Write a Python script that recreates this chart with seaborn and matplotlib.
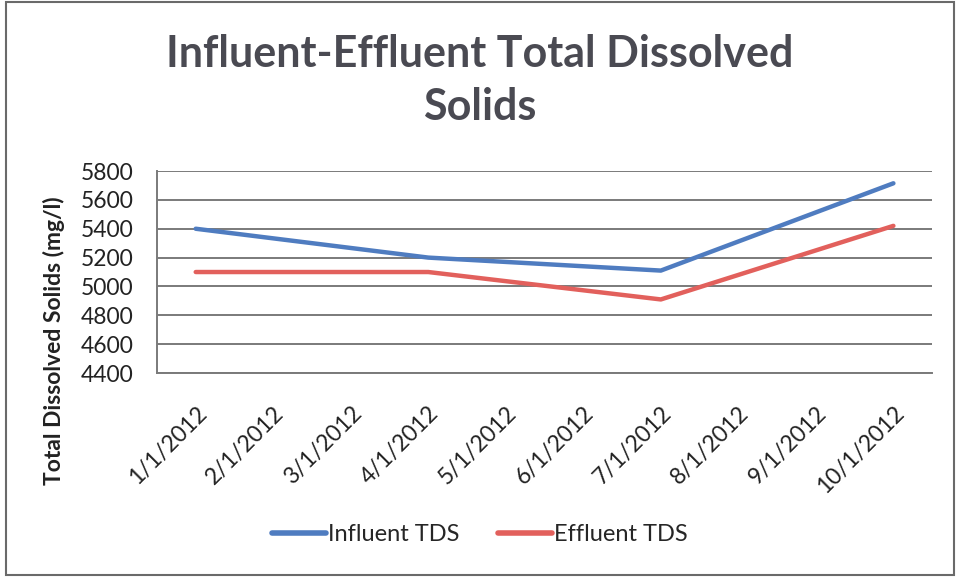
import matplotlib
matplotlib.use("Agg")
import matplotlib.pyplot as plt
import pandas as pd
import seaborn as sns
from matplotlib.patches import Rectangle

# monthly category axis, readings only at the quarterly dates
months = ['1/1/2012', '2/1/2012', '3/1/2012', '4/1/2012', '5/1/2012',
          '6/1/2012', '7/1/2012', '8/1/2012', '9/1/2012', '10/1/2012']
sample_dates = ['1/1/2012', '4/1/2012', '7/1/2012', '10/1/2012']
influent_tds = [5400, 5200, 5110, 5715]
effluent_tds = [5100, 5100, 4910, 5420]
y_ticks = [4400, 4600, 4800, 5000, 5200, 5400, 5600, 5800]

blue = '#4F7CC0'
red = '#E2605C'

sns.set_theme(style='white')
plt.rcParams['font.family'] = ['Lato', 'DejaVu Sans']

df = pd.DataFrame({
    'date': sample_dates * 2,
    'tds': influent_tds + effluent_tds,
    'series': ['Influent TDS'] * 4 + ['Effluent TDS'] * 4,
})
df['pos'] = df['date'].map({m: i for i, m in enumerate(months)})

fig = plt.figure(figsize=(9.6, 5.77), dpi=100)
ax = fig.add_axes([0.1635, 0.3535, 0.8075, 0.3501])

sns.lineplot(df, x='pos', y='tds', hue='series', palette=[blue, red],
             linewidth=3.2, ax=ax, legend=False, sort=False)
for line in ax.lines:
    line.set_solid_capstyle('round')

ax.set_xlim(-0.5, len(months) - 0.5)
ax.set_ylim(4400, 5800)
ax.set_yticks(y_ticks)
ax.set_yticklabels([str(v) for v in y_ticks], fontsize=16.5, color='#222222')
ax.set_xticks(range(len(months)))
ax.set_xticklabels(months, rotation=45, ha='right', rotation_mode='anchor',
                   fontsize=16.5, color='#222222')
ax.tick_params(axis='y', length=0, pad=17)
ax.tick_params(axis='x', length=0, pad=21)
ax.set_xlabel('')
ax.set_ylabel('Total Dissolved Solids (mg/l)', fontsize=16.5, fontweight='bold',
              color='#222222')
ax.yaxis.set_label_coords(-0.118, 0.16)
ax.yaxis.grid(True, color='#7a7a7a', linewidth=1.4)
ax.set_axisbelow(True)
for side in ['top', 'right']:
    ax.spines[side].set_visible(False)
for side in ['left', 'bottom']:
    ax.spines[side].set_color('#7a7a7a')
    ax.spines[side].set_linewidth(1.4)

fig.text(0.5, 0.86, 'Influent-Effluent Total Dissolved\nSolids', ha='center',
         va='center', fontsize=31, fontweight='bold', color='#4a4a52',
         linespacing=1.4)

handles = [plt.Line2D([], [], color=blue, linewidth=4, solid_capstyle='round'),
           plt.Line2D([], [], color=red, linewidth=4, solid_capstyle='round')]
fig.legend(handles, ['Influent TDS', 'Effluent TDS'], loc='center',
           bbox_to_anchor=(0.5, 0.073), ncol=2, frameon=False, fontsize=17,
           handlelength=2.3, handletextpad=0.1, columnspacing=1.6)

fig.patches.append(Rectangle((0.006, 0.004), 0.988, 0.992, transform=fig.transFigure,
                             fill=False, edgecolor='#6a6a6a', linewidth=1.5))

fig.savefig('out.png', dpi=100)
